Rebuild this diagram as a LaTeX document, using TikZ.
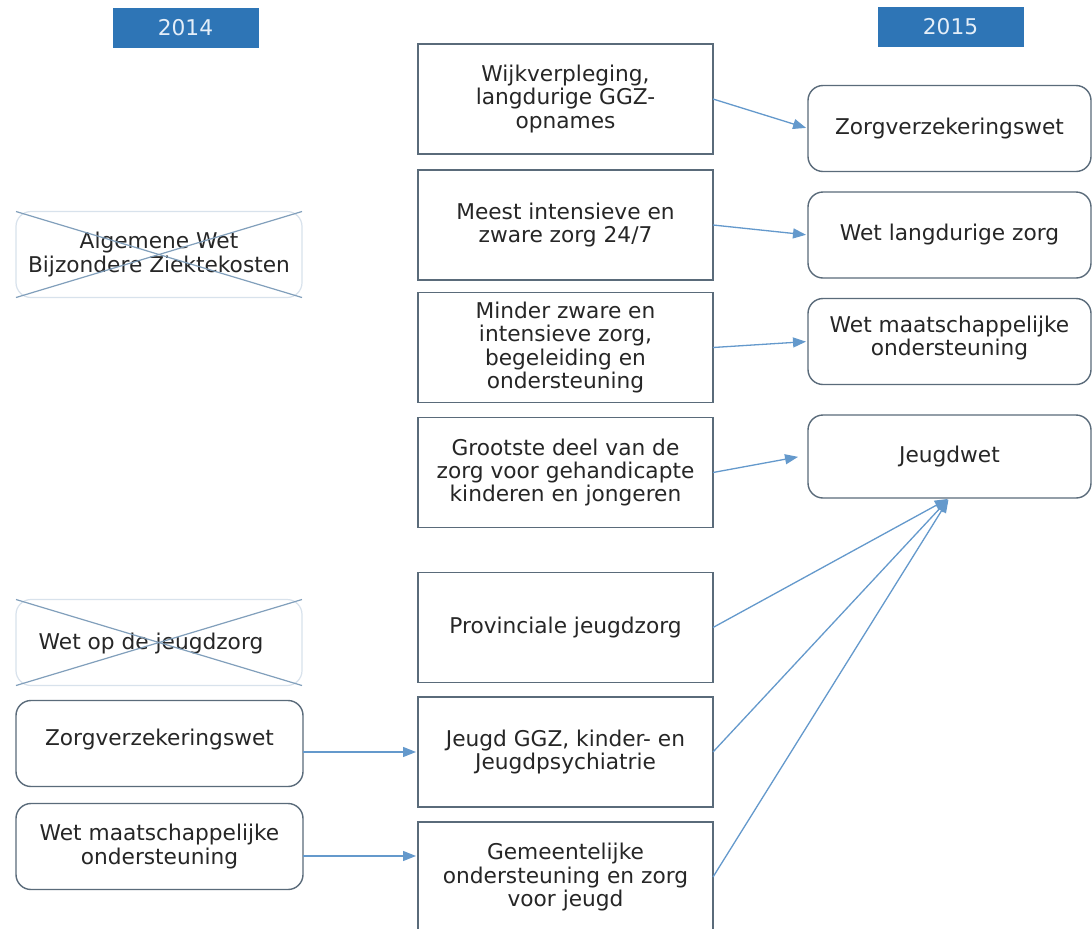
\documentclass[tikz,border=0pt]{standalone}
\usepackage{fontspec}
\setmainfont{DejaVu Sans}
\usetikzlibrary{arrows.meta}
\definecolor{hdrblue}{HTML}{2E75B6}
\definecolor{hdrtext}{HTML}{E4EEF8}
\definecolor{boxline}{HTML}{5A6B7A}
\definecolor{faintline}{HTML}{D8E2EC}
\definecolor{crossline}{HTML}{819FBB}
\definecolor{arrowblue}{HTML}{6499CC}
\definecolor{txt}{HTML}{262626}
\tikzset{
  base/.style={inner sep=0pt, outer sep=0pt, align=center, text=txt,
    font=\fontsize{10.85pt}{11.6pt}\selectfont},
  header/.style={base, fill=hdrblue, text=hdrtext, minimum width=146*0.5pt, minimum height=40*0.5pt},
  midbox/.style={base, draw=boxline, line width=0.75pt, fill=white, minimum width=295*0.5pt, minimum height=110*0.5pt},
  rbox/.style={base, draw=boxline, line width=0.7pt, rounded corners=7.5pt, fill=white, minimum width=283*0.5pt, minimum height=86*0.5pt},
  lbox/.style={base, draw=boxline, line width=0.7pt, rounded corners=7.5pt, fill=white, minimum width=287*0.5pt, minimum height=86*0.5pt},
  oldbox/.style={base, draw=faintline, line width=0.6pt, rounded corners=7.5pt, minimum width=286*0.5pt, minimum height=86*0.5pt},
  crossx/.style={draw=crossline, line width=0.6pt},
  arr/.style={draw=arrowblue, line width=0.65pt, -{Triangle[length=6.5pt,width=5pt]}, shorten >=1pt},
}
\begin{document}
\begin{tikzpicture}[x=0.5pt,y=-0.5pt]
\useasboundingbox (0,0) rectangle (1092,928);
\fill[white] (0,0) rectangle (1092,928);

% headers
\node[header] (h14) at (185.5,28) {2014};
\node[header] (h15) at (950.5,26.5) {2015};

% middle column
\node[midbox] (b1) at (565.5,99) {Wijkverpleging,\\langdurige GGZ-\\opnames};
\node[midbox] (b2) at (565.5,225) {Meest intensieve en\\zware zorg 24/7};
\node[midbox] (b3) at (565.5,347.5) {Minder zware en\\intensieve zorg,\\begeleiding en\\ondersteuning};
\node[midbox] (b4) at (565.5,472.5) {Grootste deel van de\\zorg voor gehandicapte\\kinderen en jongeren};
\node[midbox] (b5) at (565.5,627.5) {Provinciale jeugdzorg};
\node[midbox] (b6) at (565.5,752) {Jeugd GGZ, kinder- en\\Jeugdpsychiatrie};
\node[midbox] (b7) at (565.5,877) {Gemeentelijke\\ondersteuning en zorg\\voor jeugd};

% right column (2015)
\node[rbox] (r1) at (949.5,128.5) {Zorgverzekeringswet};
\node[rbox] (r2) at (949.5,235) {Wet langdurige zorg};
\node[rbox] (r3) at (949.5,341.5) {};
\node[base] (r3t) at (949.5,338) {Wet maatschappelijke\\ondersteuning};
\node[rbox, minimum height=83*0.5pt] (r4) at (949.5,456.5) {Jeugdwet};

% left column (2014)
\node[oldbox] (ab) at (159,254.5) {Algemene Wet\\Bijzondere Ziektekosten};
\draw[crossx] (ab.north west) -- (ab.south east);
\draw[crossx] (ab.south west) -- (ab.north east);
\node[oldbox] (wj) at (159,642.5) {};
\node[base] (wjt) at (151,643) {Wet op de jeugdzorg};
\draw[crossx] (wj.north west) -- (wj.south east);
\draw[crossx] (wj.south west) -- (wj.north east);
\node[lbox] (lz) at (159.5,743.5) {};
\node[base] (lzt) at (159.5,739) {Zorgverzekeringswet};
\node[lbox] (lw) at (159.5,846.5) {Wet maatschappelijke\\ondersteuning};

% connectors
\draw[arr] (b1.east) -- (r1.west);
\draw[arr] (b2.east) -- (r2.west);
\draw[arr] (b3.east) -- (r3.west);
\draw[arr] (b4.east) -- ([xshift=-4pt]r4.west);
\draw[arr] (b5.east) -- (r4.south);
\draw[arr] (b6.east) -- (r4.south);
\draw[arr] (b7.east) -- (r4.south);
\coordinate (c6) at (418,752);
\coordinate (c7) at (418,856);
\draw[arr] (lz.east |- c6) -- (b6.west);
\draw[arr] (lw.east |- c7) -- (c7);
\end{tikzpicture}
\end{document}
